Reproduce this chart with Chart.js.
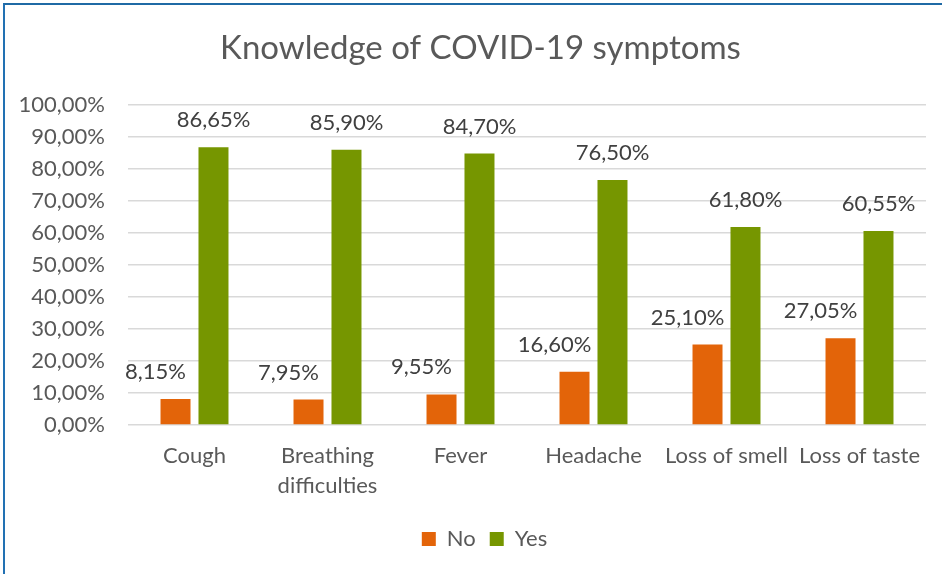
<!DOCTYPE html>
<html>
<head>
<meta charset="utf-8">
<script src="https://cdn.jsdelivr.net/npm/chart.js@4"></script>
<style>
  html, body { margin: 0; padding: 0; background: #fff; }
  #frame {
    position: absolute; left: 3px; top: 3px;
    width: 937px; height: 569px;
    border-left: 2px solid #2271b3;
    border-top: 2px solid #1f6aa5;
  }
  canvas { display: block; }
</style>
</head>
<body>
<div id="frame"><canvas id="chart" width="937" height="569"></canvas></div>
<script>
const categories = ["Cough", ["Breathing", "difficulties"], "Fever", "Headache", "Loss of smell", "Loss of taste"];
const noValues = [8.15, 7.95, 9.55, 16.60, 25.10, 27.05];
const yesValues = [86.65, 85.90, 84.70, 76.50, 61.80, 60.55];
const yTicks = [0, 10, 20, 30, 40, 50, 60, 70, 80, 90, 100];

const FONT = "Lato, 'Open Sans', sans-serif";

function pct(v) {
  return v.toFixed(2).replace(".", ",") + "%";
}

/* value labels above the bars (the "No" ones sit a bit to the left, like Excel put them) */
const barLabels = {
  id: "barLabels",
  afterDatasetsDraw(chart) {
    const ctx = chart.ctx;
    ctx.save();
    ctx.font = "22px " + FONT;
    ctx.fillStyle = "#404040";
    ctx.textAlign = "center";
    ctx.textBaseline = "bottom";
    chart.data.datasets.forEach((ds, i) => {
      const shift = i === 0 ? -20 : 0;
      chart.getDatasetMeta(i).data.forEach((bar, j) => {
        ctx.fillText(pct(ds.data[j]), bar.x + shift, bar.y - 16);
      });
    });
    ctx.restore();
  }
};

/* title and legend sit a little right of the canvas centre in the original */
const boxShift = {
  id: "boxShift",
  afterLayout(chart) {
    chart.legend.left += 19;
    chart.legend.right += 19;
    chart.titleBlock.left += 15;
    chart.titleBlock.right += 15;
  }
};

const ctx = document.getElementById("chart").getContext("2d");

const chart = new Chart(ctx, {
  type: "bar",
  data: {
    labels: categories,
    datasets: [{
      label: "No",
      data: noValues,
      backgroundColor: "#e36409",
      categoryPercentage: 0.571,
      barPercentage: 0.79
    }, {
      label: "Yes",
      data: yesValues,
      backgroundColor: "#769600",
      categoryPercentage: 0.571,
      barPercentage: 0.79
    }]
  },
  options: {
    responsive: false,
    animation: false,
    layout: { padding: { left: 0, right: 16, top: 0, bottom: 14 } },
    plugins: {
      title: {
        display: true,
        text: "Knowledge of COVID-19 symptoms",
        color: "#595959",
        font: { family: FONT, size: 33, weight: "normal" },
        padding: { top: 24, bottom: 36 }
      },
      legend: {
        position: "bottom",
        labels: {
          color: "#595959",
          font: { family: FONT, size: 22 },
          boxWidth: 14,
          boxHeight: 14,
          padding: 14
        }
      },
      tooltip: { enabled: false }
    },
    scales: {
      x: {
        grid: { display: false, drawTicks: false },
        border: { display: false },
        afterFit(scale) {
          scale.height = 89;
        },
        ticks: {
          color: "#595959",
          font: { family: FONT, size: 22, lineHeight: 1.36 },
          padding: 16,
          maxRotation: 0,
          autoSkip: false
        }
      },
      y: {
        min: 0,
        max: 100,
        afterBuildTicks(scale) {
          scale.ticks = yTicks.map(v => ({ value: v }));
        },
        afterFit(scale) {
          scale.width = 123;
        },
        grid: { color: "#d9d9d9", lineWidth: 1.5, drawTicks: false },
        border: { display: false },
        ticks: {
          color: "#595959",
          font: { family: FONT, size: 22 },
          padding: 23,
          callback: v => pct(v)
        }
      }
    }
  },
  plugins: [barLabels, boxShift]
});
</script>
</body>
</html>
